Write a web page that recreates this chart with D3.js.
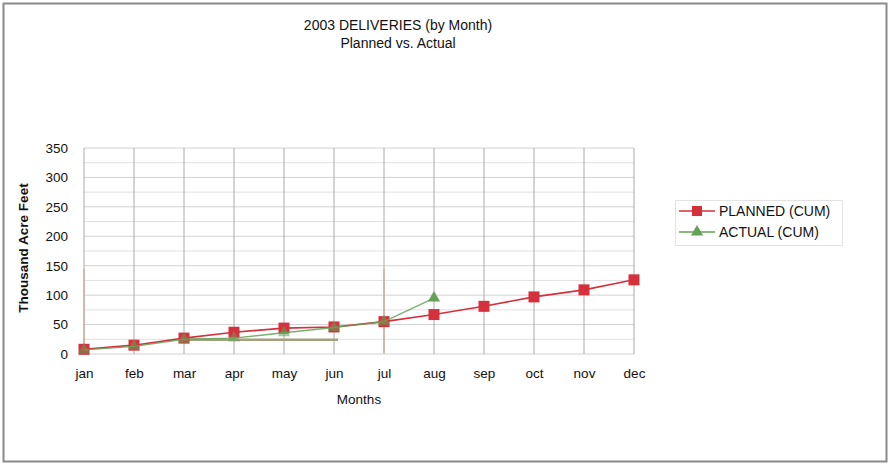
<!DOCTYPE html>
<html>
<head>
<meta charset="utf-8">
<script src="https://cdn.jsdelivr.net/npm/d3@7"></script>
<style>
  html, body { margin: 0; padding: 0; background: #fff; }
  svg { display: block; font-family: "Liberation Sans", Arial, sans-serif; }
</style>
</head>
<body>
<svg id="chart" width="890" height="464"></svg>
<script>
// Monthly cumulative deliveries, thousand acre-feet
const months = ["jan", "feb", "mar", "apr", "may", "jun", "jul", "aug", "sep", "oct", "nov", "dec"];
const plannedCum = [8, 15, 27, 37, 44, 46, 55, 67, 81, 97, 109, 126];
const actualMonths = ["jan", "feb", "mar", "apr", "may", "jun", "jul", "aug"];
const actualCum = [7, 13, 25, 27, 36, 45, 55, 95];
const yTicks = [0, 50, 100, 150, 200, 250, 300, 350];
const minorTicks = d3.range(25, 350, 50);
// flat marker line across the spring months
const flatFrom = "mar", flatTo = "jun", flatValue = 24;
// faint drop lines
const dropMonths = ["jan", "jul"];
const dropTop = 145;

const svg = d3.select("#chart");
const W = 890, H = 464;
const FONT = "Liberation Sans, Arial, sans-serif";

// outer frame
svg.append("rect")
  .attr("x", 3.5).attr("y", 3.5).attr("width", W - 7).attr("height", H - 6)
  .attr("fill", "#fff").attr("stroke", "#8a8a8a").attr("stroke-width", 2);

const x = d3.scalePoint().domain(months).range([84, 634]);
const y = d3.scaleLinear().domain([0, 350]).range([354, 148]);

const plot = svg.append("g");

// horizontal grid (major + minor)
plot.selectAll("line.hmin").data(minorTicks).join("line")
  .attr("x1", 84).attr("x2", 634)
  .attr("y1", d => y(d)).attr("y2", d => y(d))
  .attr("stroke", "#e0e0e0").attr("stroke-width", 1);
plot.selectAll("line.hmaj").data(yTicks).join("line")
  .attr("x1", 84).attr("x2", 634)
  .attr("y1", d => y(d)).attr("y2", d => y(d))
  .attr("stroke", "#d2d2d2").attr("stroke-width", 1);

// vertical grid at each month
plot.selectAll("line.v").data(months).join("line")
  .attr("x1", d => x(d)).attr("x2", d => x(d))
  .attr("y1", y(350)).attr("y2", y(0))
  .attr("stroke", "#aca8a8").attr("stroke-width", 1);

// faint drop lines
plot.selectAll("line.drop").data(dropMonths).join("line")
  .attr("x1", d => x(d)).attr("x2", d => x(d))
  .attr("y1", y(dropTop)).attr("y2", y(2))
  .attr("stroke", "#c4a486").attr("stroke-width", 1);

// y axis labels
const yAxis = d3.axisLeft(y).tickValues(yTicks).tickSize(0).tickPadding(0);
svg.append("g")
  .attr("transform", "translate(68,0)")
  .call(yAxis)
  .call(g => g.select(".domain").remove())
  .call(g => g.selectAll("text")
    .attr("font-size", 13.5).attr("fill", "#111").attr("font-family", FONT));

// x axis labels
const xAxis = d3.axisBottom(x).tickSize(0).tickPadding(0);
svg.append("g")
  .attr("transform", "translate(0,368)")
  .call(xAxis)
  .call(g => g.select(".domain").remove())
  .call(g => g.selectAll("text")
    .attr("font-size", 13.5).attr("fill", "#111").attr("font-family", FONT));

// axis titles
svg.append("text")
  .attr("x", 359).attr("y", 404).attr("text-anchor", "middle")
  .attr("font-size", 13.5).attr("fill", "#111").text("Months");
svg.append("text")
  .attr("transform", "translate(28,248) rotate(-90)")
  .attr("text-anchor", "middle").attr("font-size", 13.5).attr("font-weight", "bold")
  .attr("fill", "#111").text("Thousand Acre Feet");

// chart title
svg.append("text")
  .attr("x", 398).attr("y", 30).attr("text-anchor", "middle")
  .attr("font-size", 14).attr("fill", "#111").text("2003 DELIVERIES (by Month)");
svg.append("text")
  .attr("x", 398).attr("y", 48).attr("text-anchor", "middle")
  .attr("font-size", 14).attr("fill", "#111").text("Planned vs. Actual");

const red = "#d6303c", green = "#63a256";

const planned = months.map((m, i) => ({ m, v: plannedCum[i] }));
const actual = actualMonths.map((m, i) => ({ m, v: actualCum[i] }));
const line = d3.line().x(d => x(d.m)).y(d => y(d.v));

// flat olive segment
plot.append("line")
  .attr("x1", x(flatFrom)).attr("x2", x(flatTo) + 4)
  .attr("y1", y(flatValue)).attr("y2", y(flatValue))
  .attr("stroke", "#a4a07e").attr("stroke-width", 2.5);

// planned series
plot.append("path").datum(planned)
  .attr("d", line).attr("fill", "none").attr("stroke", red).attr("stroke-width", 1.6);
plot.selectAll("rect.pm").data(planned).join("rect")
  .attr("x", d => x(d.m) - 5.5).attr("y", d => y(d.v) - 5.5)
  .attr("width", 11).attr("height", 11).attr("fill", red);

// actual series
plot.append("path").datum(actual)
  .attr("d", line).attr("fill", "none").attr("stroke", green).attr("stroke-width", 1.4)
  .attr("stroke-opacity", 0.85);
const tri = d3.symbol().type(d3.symbolTriangle).size(64);
plot.selectAll("path.am").data(actual).join("path")
  .attr("d", tri)
  .attr("transform", d => `translate(${x(d.m)},${y(d.v)})`)
  .attr("fill", green).attr("fill-opacity", d => d.m === "aug" ? 1 : 0.55);

// legend
const lg = svg.append("g");
lg.append("rect").attr("x", 675.5).attr("y", 200.5).attr("width", 167).attr("height", 45)
  .attr("fill", "#fff").attr("stroke", "#e2e2e2");
const legendItems = [
  { label: "PLANNED (CUM)", color: red, shape: "square" },
  { label: "ACTUAL (CUM)", color: green, shape: "triangle" }
];
legendItems.forEach((d, i) => {
  const cy = 211 + i * 21;
  lg.append("line").attr("x1", 679).attr("x2", 715).attr("y1", cy).attr("y2", cy)
    .attr("stroke", d.color).attr("stroke-width", 1.6);
  if (d.shape === "square") {
    lg.append("rect").attr("x", 692).attr("y", cy - 5).attr("width", 10).attr("height", 10).attr("fill", d.color);
  } else {
    lg.append("path").attr("d", tri).attr("transform", `translate(697,${cy})`).attr("fill", d.color);
  }
  lg.append("text").attr("x", 719).attr("y", cy + 5).attr("font-size", 14)
    .attr("fill", "#111").text(d.label);
});
</script>
</body>
</html>
